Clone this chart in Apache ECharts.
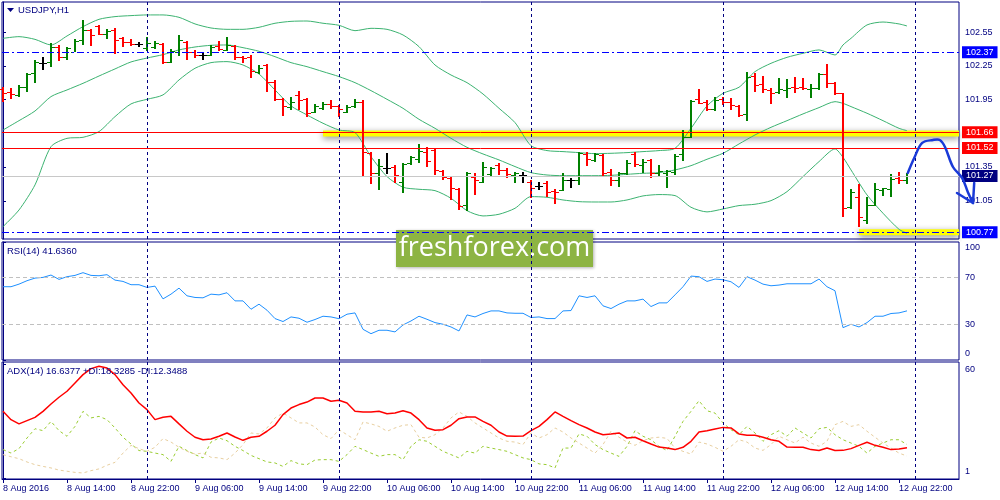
<!DOCTYPE html>
<html>
<head>
<meta charset="utf-8">
<title>USDJPY,H1</title>
<script src="https://cdn.jsdelivr.net/npm/echarts@6.0.0/dist/echarts.min.js"></script>
<style>
html, body { margin: 0; padding: 0; background: #fff; }
#chart { width: 1000px; height: 500px; }
</style>
</head>
<body>
<div id="chart"></div>
<script>
// bar 0 = 8 Aug 2016 06:00, one bar per hour (H1)
var openP = [102.041,102.020,101.991,102.065,102.183,102.278,102.287,102.420,102.331,102.376,
  102.479,102.568,102.604,102.530,102.568,102.494,102.465,102.444,102.405,102.420,
  102.444,102.281,102.376,102.465,102.376,102.346,102.346,102.426,102.391,102.426,
  102.331,102.325,102.198,102.257,102.109,101.952,101.887,101.991,101.952,101.842,
  101.872,101.911,101.893,101.842,101.893,101.931,101.472,101.300,101.339,101.354,
  101.220,101.383,101.419,101.487,101.502,101.318,101.250,101.152,101.013,101.265,
  101.220,101.288,101.368,101.324,101.279,101.279,101.220,101.182,101.205,101.140,
  101.146,101.235,101.235,101.466,101.413,101.457,101.309,101.235,101.294,101.466,
  101.368,101.413,101.300,101.300,101.309,101.466,101.620,101.952,101.931,101.863,
  101.952,101.931,101.893,101.822,102.159,102.088,102.035,102.020,102.035,102.059,
  102.059,102.041,102.050,102.177,102.100,102.005,100.992,101.081,100.879,101.013,
  101.146,101.152,101.250,101.235];
var highP = [102.059,102.050,102.079,102.189,102.302,102.325,102.456,102.435,102.414,102.485,
  102.657,102.574,102.613,102.574,102.583,102.503,102.485,102.465,102.503,102.474,
  102.450,102.396,102.524,102.474,102.391,102.376,102.435,102.474,102.503,102.435,
  102.337,102.346,102.257,102.266,102.124,101.961,101.970,102.029,101.961,101.911,
  101.931,101.946,101.902,101.902,101.952,101.946,101.487,101.419,101.472,101.368,
  101.383,101.448,101.555,101.531,101.516,101.324,101.265,101.161,101.309,101.300,
  101.398,101.348,101.383,101.339,101.309,101.309,101.235,101.220,101.229,101.152,
  101.300,101.250,101.487,101.487,101.478,101.466,101.330,101.309,101.413,101.487,
  101.419,101.419,101.368,101.324,101.466,101.679,101.946,102.041,101.946,101.976,
  101.976,101.961,101.902,102.198,102.189,102.159,102.050,102.139,102.130,102.148,
  102.139,102.088,102.189,102.266,102.109,102.011,101.152,101.199,101.087,101.211,
  101.161,101.288,101.309,101.294];
var lowP = [101.922,101.952,101.976,102.020,102.100,102.207,102.242,102.296,102.296,102.367,
  102.435,102.426,102.524,102.485,102.355,102.414,102.420,102.420,102.376,102.405,
  102.266,102.272,102.337,102.302,102.316,102.308,102.337,102.385,102.376,102.302,
  102.272,102.139,102.177,102.020,101.940,101.804,101.851,101.857,101.793,101.828,
  101.857,101.863,101.793,101.828,101.872,101.259,101.205,101.146,101.288,101.211,
  101.116,101.368,101.389,101.354,101.279,101.235,101.057,100.962,100.962,101.102,
  101.211,101.265,101.279,101.250,101.211,101.211,101.072,101.146,101.087,101.022,
  101.140,101.161,101.191,101.359,101.398,101.259,101.176,101.176,101.279,101.354,
  101.294,101.250,101.259,101.161,101.279,101.407,101.605,101.911,101.851,101.851,
  101.902,101.851,101.793,101.762,102.020,102.011,101.911,101.999,101.961,102.005,
  102.029,101.961,102.041,102.050,101.991,100.909,100.974,100.820,100.850,101.004,
  101.087,101.081,101.199,101.199];
var closeP = [102.005,101.999,102.059,102.177,102.287,102.278,102.420,102.331,102.405,102.474,
  102.568,102.524,102.530,102.562,102.479,102.465,102.444,102.444,102.450,102.456,
  102.287,102.385,102.479,102.376,102.346,102.346,102.420,102.396,102.435,102.331,
  102.316,102.207,102.228,102.109,101.952,101.893,101.931,101.946,101.828,101.893,
  101.911,101.893,101.863,101.887,101.931,101.487,101.300,101.362,101.339,101.279,
  101.377,101.436,101.496,101.407,101.324,101.265,101.161,101.004,101.294,101.235,
  101.348,101.339,101.324,101.288,101.294,101.279,101.161,101.182,101.131,101.131,
  101.235,101.235,101.472,101.419,101.466,101.300,101.235,101.300,101.389,101.377,
  101.398,101.294,101.318,101.318,101.448,101.620,101.940,101.922,101.863,101.946,
  101.931,101.902,101.813,102.148,102.079,102.041,102.005,102.041,102.050,102.050,
  102.050,102.050,102.177,102.100,102.011,100.983,101.131,100.909,101.013,101.152,
  101.161,101.241,101.235,101.270];

// Bollinger bands read at these bars
var bbIdx = [0,2,4,6,8,10,12,14,16,18,20,22,24,26,28,30,32,34,36,38,40,42,44,46,48,50,52,54,56,58,
  60,62,64,66,68,70,72,74,76,78,80,82,84,86,88,90,92,94,96,98,100,102,104,105,106,108,110,112,113];
var bbUpper = [102.494,102.509,102.485,102.435,102.515,102.598,102.663,102.687,102.696,102.702,
  102.702,102.681,102.622,102.586,102.574,102.574,102.592,102.628,102.645,102.648,
  102.628,102.610,102.562,102.583,102.574,102.524,102.420,102.257,102.168,102.100,
  101.999,101.872,101.745,101.540,101.496,101.487,101.478,101.469,101.472,101.478,
  101.487,101.496,101.516,101.694,101.893,102.005,102.059,102.198,102.272,102.325,
  102.361,102.391,102.346,102.435,102.494,102.613,102.639,102.622,102.604];
var bbMiddle = [101.679,101.762,101.848,101.976,102.035,102.094,102.159,102.222,102.284,102.319,
  102.349,102.391,102.417,102.432,102.435,102.411,102.379,102.331,102.278,102.242,
  102.198,102.154,102.100,102.029,101.952,101.872,101.774,101.694,101.605,101.525,
  101.466,101.413,101.354,101.300,101.279,101.273,101.273,101.273,101.276,101.285,
  101.294,101.300,101.324,101.362,101.419,101.472,101.555,101.635,101.703,101.762,
  101.822,101.878,101.931,101.916,101.887,101.828,101.762,101.694,101.673];
var bbLower = [100.820,100.968,101.191,101.531,101.605,101.614,101.665,101.798,101.911,101.952,
  101.991,102.124,102.228,102.278,102.287,102.257,102.177,102.035,101.893,101.813,
  101.739,101.679,101.656,101.442,101.265,101.170,101.152,101.140,101.072,100.962,
  100.915,100.930,100.983,101.087,101.081,101.057,101.042,101.039,101.039,101.057,
  101.093,101.105,101.096,100.992,100.951,100.977,101.007,101.019,101.051,101.131,
  101.265,101.398,101.511,101.436,101.324,101.102,100.939,100.796,100.761];

var rsi = [62.1,62.1,64.3,67.2,69.4,70.0,72.0,68.3,70.6,71.7,
  74.0,71.7,71.4,72.3,67.7,66.6,63.8,63.8,61.5,62.6,
  51.8,55.8,60.9,54.4,53.0,52.7,55.8,55.2,57.0,50.1,
  50.1,43.0,47.3,42.2,35.1,32.6,36.5,35.4,32.0,34.3,
  37.1,36.5,35.0,38.8,39.9,26.0,22.3,25.2,25.2,23.8,
  29.7,33.1,37.1,34.5,31.7,30.3,28.0,24.6,38.2,36.5,
  39.4,41.6,41.6,39.9,39.6,39.6,36.0,36.5,35.1,35.1,
  41.6,41.9,54.4,53.0,54.4,45.9,43.6,47.3,50.1,50.1,
  51.6,45.3,48.4,48.4,55.2,62.1,71.1,70.6,66.6,68.6,
  68.0,66.3,61.5,70.6,67.7,64.3,62.9,63.5,64.6,64.6,
  64.6,64.6,68.6,62.1,58.7,27.4,30.3,28.0,31.7,37.1,
  37.1,39.4,39.9,41.636];
var adx = [35.5,31.2,29.0,30.7,32.4,35.5,39.3,42.8,45.9,50.2,
  54.5,57.6,58.8,57.9,54.5,49.3,45.0,39.8,36.4,31.2,
  32.4,32.9,29.0,25.2,22.1,20.8,21.2,22.6,24.3,22.2,
  20.5,22.1,22.6,25.2,28.3,33.8,37.2,39.0,40.3,42.4,
  42.4,40.7,41.2,39.8,35.5,35.2,35.2,35.5,34.3,34.6,
  35.8,34.6,31.2,26.9,25.7,26.0,28.3,31.7,32.6,32.6,
  30.3,28.3,24.8,22.7,22.6,22.7,25.5,27.7,31.2,35.2,
  32.9,30.7,28.6,26.9,24.8,23.4,23.8,24.3,21.7,22.1,
  20.3,18.6,17.0,16.5,15.7,16.9,20.0,24.8,25.5,26.4,
  27.2,26.9,23.8,23.1,23.1,22.1,20.8,20.0,17.0,16.9,
  16.9,15.7,15.2,16.5,15.2,15.3,16.2,17.9,19.5,17.9,
  16.9,15.7,16.0,16.638];
var plusDI = [15.7,13.9,16.2,21.7,26.5,25.5,30.3,25.5,22.6,27.7,
  35.5,32.1,32.9,31.2,26.9,22.1,18.6,15.2,14.8,13.9,
  13.1,9.6,17.4,15.2,13.1,11.4,19.6,21.7,20.3,17.4,
  15.2,12.7,11.0,9.3,8.8,7.0,10.0,8.3,7.9,10.3,
  10.5,10.5,9.6,13.1,17.4,15.7,13.9,12.2,13.1,13.1,
  10.5,17.4,20.8,20.0,17.4,14.8,13.1,11.4,14.8,13.9,
  17.4,16.5,15.7,14.8,13.1,11.4,10.5,8.3,7.9,6.2,
  16.5,16.5,23.8,22.6,18.3,15.7,13.9,12.2,17.4,25.5,
  22.6,20.8,17.4,15.2,22.6,30.3,35.5,41.0,35.8,34.6,
  29.5,26.0,23.4,27.7,24.3,20.0,23.4,25.5,22.6,26.9,
  24.3,21.7,26.5,27.2,23.4,20.8,19.1,17.4,13.9,17.4,
  19.1,20.8,20.8,18.329];
var minusDI = [13.1,12.0,11.0,9.3,7.9,7.0,6.2,5.1,4.5,3.9,
  3.6,4.8,5.7,7.6,9.1,13.9,17.9,16.2,14.8,16.9,
  21.4,19.6,16.9,14.8,13.4,13.9,11.7,11.4,10.5,13.9,
  18.3,24.3,23.8,26.9,32.1,34.6,32.1,29.5,29.5,27.4,
  23.4,21.4,26.0,23.4,20.8,30.0,29.0,27.7,25.2,26.9,
  28.3,28.6,22.1,21.7,23.4,26.9,32.1,35.2,32.9,29.5,
  26.9,24.3,21.7,20.0,19.6,18.3,24.3,21.7,23.4,26.9,
  24.8,21.7,19.1,16.5,13.9,18.3,25.2,22.1,19.6,17.9,
  20.3,21.7,22.1,21.5,16.5,14.8,13.4,19.6,18.6,16.9,
  14.8,17.4,20.8,19.6,16.5,15.3,18.3,22.6,20.8,19.1,
  22.1,19.1,17.4,20.0,28.6,30.3,27.7,28.6,25.2,22.1,
  19.1,16.5,13.9,12.349];

var tickIdx = [0,8,16,24,32,40,48,56,64,72,80,88,96,104,112];
var tickLabels = ['8 Aug 2016','8 Aug 14:00','8 Aug 22:00','9 Aug 06:00','9 Aug 14:00',
  '9 Aug 22:00','10 Aug 06:00','10 Aug 14:00','10 Aug 22:00','11 Aug 06:00',
  '11 Aug 14:00','11 Aug 22:00','12 Aug 06:00','12 Aug 14:00','12 Aug 22:00'];
var daySeparators = [18, 42, 66, 90, 114];

var priceTicks = [102.55, 102.25, 101.95, 101.35, 101.05];
var rsiTicks = [100, 70, 30, 0];
var rsiLevels = [70, 30];
var adxTicks = [60, 1];

// horizontal levels: resistance/support, current bid
var levelValues = [102.37, 101.66, 101.52, 101.27, 100.77];
var highlightValues = [101.648, 100.77];
var highlightFrom = [40, 107];

// hand drawn forecast arrow (bar index, price)
var arrowIdx = [113.1, 113.9, 114.9, 116.25, 117.1, 117.75, 118.75, 119.9, 120.6, 121.25];
var arrowPrice = [101.297, 101.43, 101.564, 101.59, 101.59, 101.528, 101.35, 101.252, 101.128, 101.03];
var headIdx = [119.25, 121.25, 121.4];
var headPrice = [101.119, 101.03, 101.208];

//----------------------------------------------------------
var NAVY = '#000080';
var FONT = 'Liberation Sans';
var X_MIN = -0.125, X_MAX = 119.5;

function pairs(xs, ys) {
    return xs.map(function (x, k) { return [x, ys[k]]; });
}
function byBar(vals) {
    return vals.map(function (v, i) { return [i, v]; });
}

var bars = openP.map(function (o, i) {
    return [i, o, highP[i], lowP[i], closeP[i]];
});

var levelLine = [
    { color: '#0000ff', type: [7, 3, 2, 3], width: 1 },
    { color: '#ff0000', type: 'solid', width: 1 },
    { color: '#ff0000', type: 'solid', width: 1 },
    { color: '#c8c8c8', type: 'solid', width: 1 },
    { color: '#0000ff', type: [7, 3, 2, 3], width: 1 }
];
var levelTag = ['#0000ff', '#ff0000', '#ff0000', NAVY, '#0000ff'];

function separators() {
    return daySeparators.map(function (d) {
        return { xAxis: d, lineStyle: { color: NAVY, type: [3, 3], width: 1 }, label: { show: false } };
    });
}

var levelMarks = levelValues.map(function (v, k) {
    return {
        yAxis: v,
        lineStyle: levelLine[k],
        label: {
            show: true, position: 'end', distance: 3,
            formatter: v.toFixed(2),
            backgroundColor: levelTag[k], color: '#fff',
            padding: [2, 4, 1, 4], fontSize: 9, fontFamily: FONT
        }
    };
});

function xAxisFor(g, withLabels) {
    return {
        type: 'value', gridIndex: g, min: X_MIN, max: X_MAX,
        splitLine: { show: false },
        axisLine: { show: withLabels, lineStyle: { color: NAVY } },
        axisTick: { show: withLabels, customValues: tickIdx, length: 4, lineStyle: { color: NAVY } },
        axisLabel: {
            show: withLabels, customValues: tickIdx, align: 'left', margin: 5,
            color: NAVY, fontSize: 9, fontFamily: FONT,
            formatter: function (v) { return tickLabels[tickIdx.indexOf(Math.round(v))] || ''; }
        }
    };
}

function yAxisFor(g, min, max, ticks, fmt) {
    return {
        type: 'value', gridIndex: g, position: 'right', min: min, max: max,
        splitLine: { show: false },
        axisLine: { show: true, lineStyle: { color: NAVY } },
        axisTick: { show: true, customValues: ticks, length: 3, lineStyle: { color: NAVY } },
        axisLabel: {
            customValues: ticks, margin: 6, color: NAVY, fontSize: 9, fontFamily: FONT,
            lineHeight: 12, formatter: fmt
        }
    };
}

var gridBase = { left: 2, right: 41, show: true, borderColor: NAVY, borderWidth: 1, backgroundColor: 'transparent' };

var staticGraphics = [
    { type: 'polygon', z: 100, shape: { points: [[7, 8], [14, 8], [10.5, 12]] }, style: { fill: NAVY } },
    { type: 'text', z: 100, x: 18, y: 5, style: { text: 'USDJPY,H1', fill: NAVY, font: '9.5px ' + FONT } },
    { type: 'text', z: 100, x: 7, y: 246, style: { text: 'RSI(14) 41.6360', fill: NAVY, font: '9.5px ' + FONT } },
    { type: 'text', z: 100, x: 7, y: 366, style: { text: 'ADX(14) 16.6377 +DI:18.3285 -DI:12.3488', fill: NAVY, font: '9.5px ' + FONT } },
    {
        type: 'group', z: 100,
        children: [
            { type: 'rect', shape: { x: 396, y: 230, width: 197, height: 37 },
              style: { fill: '#8db443', shadowBlur: 3, shadowColor: 'rgba(0,0,0,0.3)', shadowOffsetX: 1, shadowOffsetY: 1 } },
            { type: 'text', x: 494.5, y: 248.5,
              style: { text: 'freshforex.com', fill: '#ffffff', font: '27px "Open Sans"', align: 'center', verticalAlign: 'middle' } }
        ]
    }
];

var option = {
    animation: false,
    backgroundColor: '#ffffff',
    textStyle: { fontFamily: FONT },
    grid: [
        Object.assign({ top: 2, height: 237 }, gridBase),
        Object.assign({ top: 242, height: 118 }, gridBase),
        Object.assign({ top: 362, height: 117 }, gridBase)
    ],
    xAxis: [xAxisFor(0, false), xAxisFor(1, false), xAxisFor(2, true)],
    yAxis: [
        yAxisFor(0, 100.71, 102.817, priceTicks, function (v) { return v.toFixed(2); }),
        yAxisFor(1, 0, 100, rsiTicks, function (v) {
            if (v === 100) return ' \n100';
            if (v === 0) return '0\n ';
            return String(v);
        }),
        yAxisFor(2, 0.48, 61.04, adxTicks, function (v) {
            if (v === 60) return ' \n60';
            if (v === 1) return '1\n ';
            return String(v);
        })
    ],
    graphic: staticGraphics,
    series: [
        // yellow highlight bands
        {
            type: 'line', xAxisIndex: 0, yAxisIndex: 0, z: 1, symbol: 'none', silent: true,
            data: [[highlightFrom[0], highlightValues[0]], [X_MAX, highlightValues[0]]],
            lineStyle: { color: '#ffff00', width: 6, shadowColor: 'rgba(0,0,0,0.45)', shadowBlur: 6, shadowOffsetY: 2 }
        },
        {
            type: 'line', xAxisIndex: 0, yAxisIndex: 0, z: 1, symbol: 'none', silent: true,
            data: [[highlightFrom[1], highlightValues[1]], [X_MAX, highlightValues[1]]],
            lineStyle: { color: '#ffff00', width: 6, shadowColor: 'rgba(0,0,0,0.45)', shadowBlur: 6, shadowOffsetY: 2 }
        },
        // Bollinger bands
        { type: 'line', xAxisIndex: 0, yAxisIndex: 0, z: 2, symbol: 'none', smooth: 0.25, data: pairs(bbIdx, bbUpper), lineStyle: { color: '#3cb371', width: 1 } },
        { type: 'line', xAxisIndex: 0, yAxisIndex: 0, z: 2, symbol: 'none', smooth: 0.25, data: pairs(bbIdx, bbMiddle), lineStyle: { color: '#3cb371', width: 1 } },
        { type: 'line', xAxisIndex: 0, yAxisIndex: 0, z: 2, symbol: 'none', smooth: 0.25, data: pairs(bbIdx, bbLower), lineStyle: { color: '#3cb371', width: 1 } },
        // OHLC bars
        {
            type: 'custom', xAxisIndex: 0, yAxisIndex: 0, z: 3,
            data: bars,
            encode: { x: 0, y: [1, 2, 3, 4] },
            renderItem: function (params, api) {
                var i = api.value(0), o = api.value(1), h = api.value(2), l = api.value(3), c = api.value(4);
                var top = api.coord([i, h]);
                var bot = api.coord([i, l]);
                var yo = Math.round(api.coord([i, o])[1]);
                var yc = Math.round(api.coord([i, c])[1]);
                var x = Math.round(top[0]);
                var color = c > o ? '#008000' : (c < o ? '#ff0000' : '#000000');
                return {
                    type: 'group',
                    children: [
                        { type: 'rect', shape: { x: x - 1, y: Math.round(top[1]), width: 2, height: Math.max(1, Math.round(bot[1] - top[1])) }, style: { fill: color } },
                        { type: 'rect', shape: { x: x - 4, y: yo, width: 3, height: 1 }, style: { fill: color } },
                        { type: 'rect', shape: { x: x + 1, y: yc, width: 3, height: 1 }, style: { fill: color } }
                    ]
                };
            },
            markLine: {
                silent: true, symbol: ['none', 'none'], animation: false,
                data: separators().concat(levelMarks)
            }
        },
        // RSI
        {
            type: 'line', xAxisIndex: 1, yAxisIndex: 1, symbol: 'none', data: byBar(rsi),
            lineStyle: { color: '#1e90ff', width: 1 },
            markLine: {
                silent: true, symbol: ['none', 'none'], animation: false,
                data: separators().concat(rsiLevels.map(function (v) {
                    return { yAxis: v, lineStyle: { color: '#c0c0c0', type: [4, 3], width: 1 }, label: { show: false } };
                }))
            }
        },
        // ADX
        {
            type: 'line', xAxisIndex: 2, yAxisIndex: 2, symbol: 'none', z: 3, data: byBar(adx),
            lineStyle: { color: '#ff0000', width: 1.5 },
            markLine: { silent: true, symbol: ['none', 'none'], animation: false, data: separators() }
        },
        {
            type: 'line', xAxisIndex: 2, yAxisIndex: 2, symbol: 'none', z: 2, data: byBar(plusDI),
            lineStyle: { color: '#9acd32', width: 1, type: [3, 3] }
        },
        {
            type: 'line', xAxisIndex: 2, yAxisIndex: 2, symbol: 'none', z: 2, data: byBar(minusDI),
            lineStyle: { color: '#e8cfa0', width: 1, type: [3, 3] }
        }
    ]
};

var myChart = echarts.init(document.getElementById('chart'));
myChart.setOption(option);

// the forecast arrow runs past the plot edge, so place it through the grid's own scales
function toPx(xs, ys) {
    return xs.map(function (x, k) { return myChart.convertToPixel({ gridIndex: 0 }, [x, ys[k]]); });
}
var arrowStyle = { stroke: '#1a3ad8', lineWidth: 2.5, fill: null, lineCap: 'round', lineJoin: 'round' };
myChart.setOption({
    graphic: staticGraphics.concat([
        { type: 'polyline', z: 110, shape: { points: toPx(arrowIdx, arrowPrice), smooth: 0.35 }, style: arrowStyle },
        { type: 'polyline', z: 110, shape: { points: toPx(headIdx, headPrice) }, style: arrowStyle }
    ])
});
</script>
</body>
</html>
